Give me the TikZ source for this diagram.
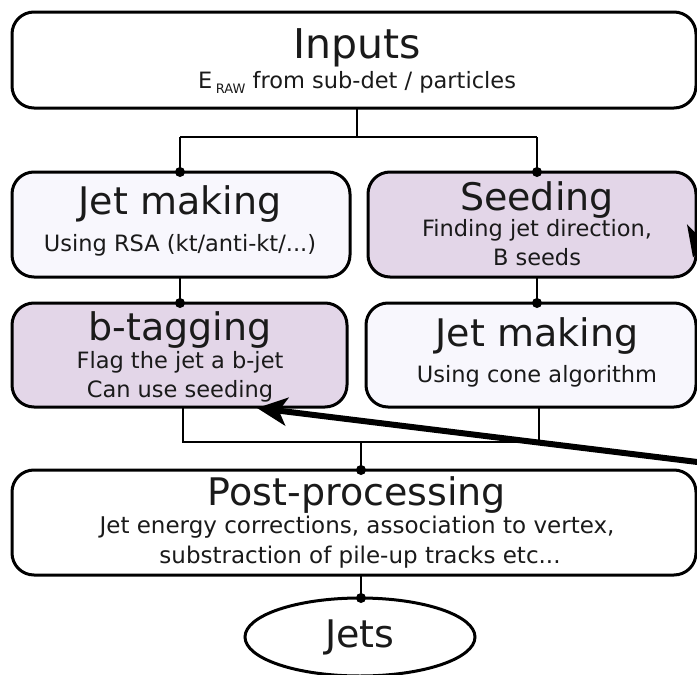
\documentclass[tikz,border=0pt]{standalone}
\usepackage{fontspec}
\setmainfont{DejaVu Sans}
\usetikzlibrary{arrows.meta,shapes.geometric,calc}
\definecolor{lilac}{HTML}{E3D6E8}
\definecolor{pale}{HTML}{F8F7FD}
\definecolor{txt}{HTML}{1A1A1A}
\begin{document}
\begin{tikzpicture}[x=1pt,y=-1pt,
  box/.style={draw=black,line width=3pt,rounded corners=22pt,inner sep=0pt,outer sep=0pt},
  conn/.style={line width=2.2pt,draw=black},
  ttl/.style={font=\fontsize{38}{38}\selectfont,text=txt,inner sep=0pt,anchor=base},
  sub/.style={font=\fontsize{22.5}{22.5}\selectfont,text=txt,inner sep=0pt,anchor=base},
  bigarrow/.style={line width=6pt,-{Stealth[length=30pt,width=28pt,inset=8pt]}}]
\useasboundingbox (0,0) rectangle (697,675);
\clip (0,0) rectangle (697,675);
% boxes
\node[box,fill=white,minimum width=684pt,minimum height=96pt] (inputs) at (354,60) {};
\node[box,fill=pale,minimum width=338pt,minimum height=105pt] (jm1) at (181,224.5) {};
\node[box,fill=lilac,minimum width=328pt,minimum height=105pt] (seed) at (532,224.5) {};
\node[box,fill=lilac,minimum width=335pt,minimum height=104pt] (btag) at (179.5,355) {};
\node[box,fill=pale,minimum width=330pt,minimum height=104pt] (jm2) at (531,355) {};
\node[box,fill=white,minimum width=684pt,minimum height=105pt] (post) at (354,522.5) {};
\node[draw=black,line width=3pt,ellipse,inner sep=0pt,outer sep=0pt,minimum width=230pt,minimum height=78pt,
      font=\fontsize{38}{38}\selectfont,text=txt] (jets) at (360,637) {Jets};
% texts
\node[ttl,font=\fontsize{41}{41}\selectfont] (t1) at (357,58) {Inputs};
\node[sub] (s1) at (357,88) {E\,\raisebox{-5pt}{\fontsize{13}{13}\selectfont RAW} from sub-det / particles};
\node[ttl] (t2) at (180,214) {Jet making};
\node[sub] (s2) at (180,251) {Using RSA (kt/anti-kt/...)};
\node[ttl] (t3) at (537,210) {Seeding};
\node[sub] (s3a) at (537,236) {Finding jet direction,};
\node[sub] (s3b) at (537,265) {B seeds};
\node[ttl] (t4) at (180,340) {b-tagging};
\node[sub] (s4a) at (180,368) {Flag the jet a b-jet};
\node[sub] (s4b) at (180,397) {Can use seeding};
\node[ttl] (t5) at (537,346) {Jet making};
\node[sub] (s5) at (537,382) {Using cone algorithm};
\node[ttl] (t6) at (357,505) {Post-processing};
\node[sub,font=\fontsize{23}{23}\selectfont] (s6a) at (357,533) {Jet energy corrections, association to vertex,};
\node[sub,font=\fontsize{23}{23}\selectfont] (s6b) at (360,563) {substraction of pile-up tracks etc...};
% connectors
\coordinate (br1) at (357,137);
\coordinate (xl) at (180,0);
\coordinate (xr) at (537,0);
\coordinate (br2) at (361,442);
\coordinate (xl2) at (183,0);
\coordinate (xr2) at (539,0);
\draw[conn] (inputs.south -| br1) -- (br1);
\draw[conn] (xl |- br1) -- (xr |- br1);
\draw[conn] (xl |- br1) -- (jm1.north -| xl);
\draw[conn] (xr |- br1) -- (seed.north -| xr);
\draw[conn] (jm1.south -| xl) -- (btag.north -| xl);
\draw[conn] (seed.south -| xr) -- (jm2.north -| xr);
\draw[conn] (btag.south -| xl2) -- (xl2 |- br2) -- (xr2 |- br2) -- (jm2.south -| xr2);
\draw[conn] (br2) -- (post.north -| br2);
\draw[conn] (post.south -| br2) -- (jets.north -| br2);
\foreach \p in {(jm1.north -| xl),(seed.north -| xr),(btag.north -| xl),(jm2.north -| xr),(post.north -| br2),(jets.north -| br2)}
  \fill[black] \p circle[radius=5pt];
% arrows from outside
\coordinate (outA) at (730,466);
\coordinate (outB) at (722,150);
\draw[bigarrow] (outA) -- ($(btag.south east)+(-90,1)$);
\draw[bigarrow] (outB) -- ($(seed.east)+(-3,33)$);
\end{tikzpicture}
\end{document}
